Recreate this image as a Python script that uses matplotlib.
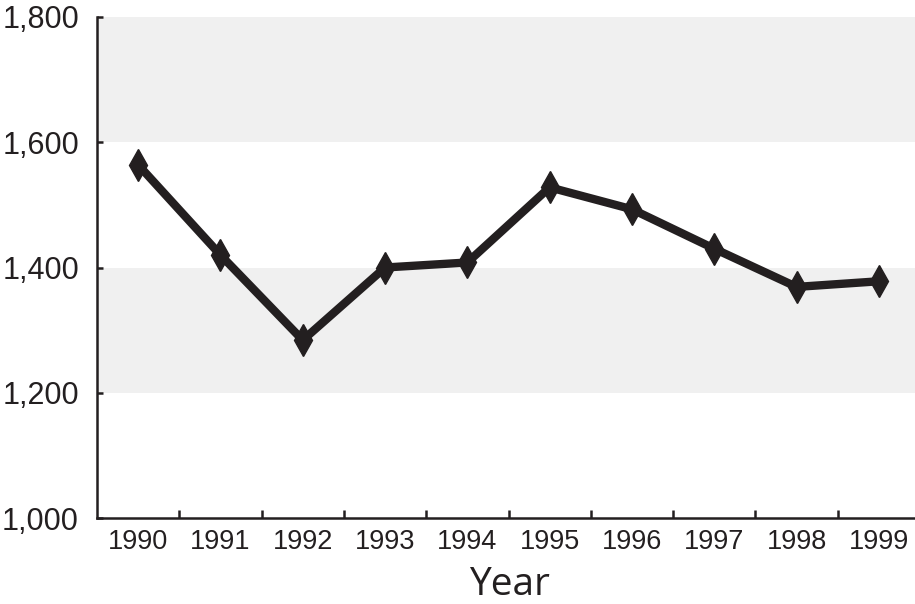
import matplotlib
matplotlib.use("Agg")
import matplotlib.pyplot as plt
from matplotlib.ticker import FixedLocator, FuncFormatter

years = ["1990", "1991", "1992", "1993", "1994", "1995", "1996", "1997", "1998", "1999"]
values = [1564, 1420, 1284, 1400, 1408, 1528, 1493, 1430, 1369, 1378]
y_ticks = [1000, 1200, 1400, 1600, 1800]
bands = [(1200, 1400), (1600, 1800)]

ink = "#231f20"

fig = plt.figure(figsize=(9.15, 6.04), dpi=100)
ax = fig.add_axes([97 / 915, 1 - 518 / 604, 823 / 915, 501 / 604])

for lo, hi in bands:
    ax.axhspan(lo, hi, color="#f0f0f0", lw=0, zorder=0)

x = list(range(len(years)))
ax.plot(x, values, color=ink, linewidth=6, marker="d", markersize=16,
        markerfacecolor=ink, markeredgecolor=ink, solid_joinstyle="miter",
        zorder=3)

ax.set_xlim(-0.5, len(years) - 0.5)
ax.set_ylim(1000, 1800)

ax.set_xticks(x)
ax.set_xticklabels(years, fontsize=19.5, family="Liberation Sans", color=ink)
ax.xaxis.set_minor_locator(FixedLocator([i + 0.5 for i in x[:-1]]))
ax.tick_params(axis="x", which="major", length=0, pad=8)
ax.tick_params(axis="x", which="minor", direction="in", length=6,
               width=1.8, color=ink)

ax.set_yticks(y_ticks)
ax.yaxis.set_major_formatter(FuncFormatter(lambda v, p: f"{int(v):,}"))
ax.tick_params(axis="y", direction="in", length=4, width=1.8, color=ink,
               pad=13, labelsize=22, labelcolor=ink)
for lab in ax.get_yticklabels():
    lab.set_family("Liberation Sans")

for side in ["top", "right"]:
    ax.spines[side].set_visible(False)
for side in ["left", "bottom"]:
    ax.spines[side].set_linewidth(1.8)
    ax.spines[side].set_color(ink)

fig.text(509 / 915, 1 - 595 / 604, "Year", ha="center", va="baseline",
         fontsize=28, family="Open Sans", color=ink)

fig.savefig("out.png", dpi=100)
